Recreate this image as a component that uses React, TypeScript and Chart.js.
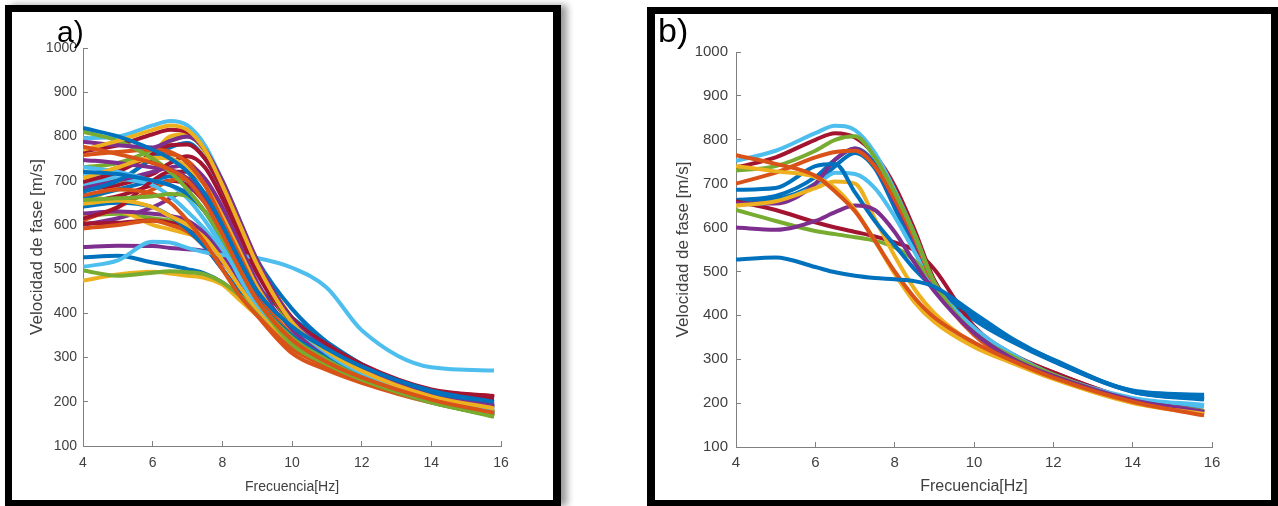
import React, { useEffect, useRef } from 'react';
import { Chart, registerables } from 'chart.js';

Chart.register(...registerables);

// Shared frequency grid (Hz)
const FREQ = [4, 5, 6, 6.5, 7, 7.5, 8, 8.5, 9, 10, 11, 12, 14, 15.8];
const X_TICKS = [4, 6, 8, 10, 12, 14, 16];
const Y_TICKS = [100, 200, 300, 400, 500, 600, 700, 800, 900, 1000];

const BLUE = '#0072BD';
const ORANGE = '#D95319';
const YELLOW = '#EDB120';
const PURPLE = '#7E2F8E';
const GREEN = '#77AC30';
const LBLUE = '#4DBEEE';
const RED = '#A2142F';

// Panel a) phase velocity curves (m/s)
const A_B1 = [819, 800, 770, 750, 720, 670, 600, 520, 450, 370, 320, 280, 225, 200];
const A_O1 = [777, 760, 740, 725, 700, 650, 580, 500, 430, 340, 290, 255, 205, 175];
const A_Y1 = [770, 790, 815, 825, 815, 770, 690, 600, 510, 380, 315, 270, 212, 185];
const A_P1 = [788, 780, 775, 790, 800, 770, 700, 610, 520, 385, 320, 275, 213, 190];
const A_G1 = [811, 790, 750, 720, 680, 630, 570, 500, 430, 345, 295, 255, 200, 168];
const A_L1 = [796, 800, 825, 835, 825, 780, 700, 610, 515, 380, 310, 265, 210, 180];
const A_R1 = [766, 780, 805, 815, 810, 770, 695, 605, 515, 390, 330, 285, 228, 213];
const A_B2 = [720, 715, 700, 690, 670, 630, 570, 500, 430, 350, 300, 262, 210, 180];
const A_O2 = [758, 765, 770, 765, 740, 690, 610, 530, 450, 350, 295, 258, 207, 178];
const A_Y2 = [705, 730, 752, 750, 730, 690, 620, 540, 460, 350, 295, 258, 206, 178];
const A_P2 = [747, 740, 730, 725, 705, 660, 590, 510, 440, 350, 305, 265, 210, 185];
const A_G2 = [656, 660, 665, 670, 665, 630, 570, 500, 430, 330, 285, 250, 200, 166];
const A_L2 = [731, 720, 700, 690, 670, 630, 560, 480, 420, 340, 295, 255, 200, 172];
const A_R2 = [697, 720, 760, 780, 782, 750, 680, 590, 500, 380, 325, 282, 226, 212];
const A_B3 = [675, 700, 750, 775, 785, 750, 680, 600, 520, 410, 335, 285, 220, 190];
const A_O3 = [667, 680, 670, 650, 610, 560, 500, 440, 395, 320, 280, 248, 200, 172];
const A_Y3 = [648, 655, 640, 620, 600, 570, 520, 460, 410, 335, 290, 255, 205, 176];
const A_P3 = [683, 700, 720, 730, 735, 705, 640, 555, 470, 360, 315, 270, 212, 188];
const A_G3 = [497, 485, 492, 495, 493, 488, 470, 440, 405, 335, 290, 250, 198, 168];
const A_L3 = [505, 520, 562, 560, 548, 538, 532, 530, 525, 503, 458, 362, 278, 271];
const A_R3 = [614, 640, 700, 720, 720, 690, 620, 540, 460, 365, 318, 278, 225, 210];
const A_B4 = [641, 650, 640, 620, 590, 550, 500, 450, 410, 345, 300, 260, 205, 175];
const A_O4 = [592, 600, 610, 600, 585, 550, 500, 445, 395, 310, 272, 243, 198, 170];
const A_Y4 = [474, 488, 494, 490, 485, 480, 465, 430, 395, 330, 285, 250, 203, 175];
const A_P4 = [626, 630, 625, 620, 610, 580, 530, 470, 420, 345, 310, 270, 213, 192];
const A_G4 = [730, 740, 770, 790, 800, 770, 700, 610, 510, 370, 305, 262, 206, 175];
const A_L4 = [716, 705, 690, 665, 630, 590, 540, 480, 420, 335, 290, 252, 200, 172];
const A_R4 = [603, 605, 610, 605, 595, 570, 530, 475, 425, 350, 310, 272, 222, 208];
const A_B5 = [527, 530, 515, 508, 500, 490, 470, 440, 410, 360, 310, 268, 200, 170];
const A_O5 = [610, 640, 680, 700, 705, 670, 600, 520, 440, 330, 285, 250, 203, 173];
const A_Y5 = [620, 630, 600, 590, 580, 570, 545, 500, 440, 345, 295, 258, 206, 178];
const A_P5 = [550, 553, 552, 548, 545, 540, 515, 470, 420, 350, 312, 272, 212, 195];
const A_G5 = [620, 625, 615, 610, 600, 580, 540, 480, 420, 335, 290, 252, 200, 170];
const A_L5 = [690, 705, 700, 690, 660, 610, 550, 490, 430, 345, 295, 255, 203, 176];
const A_R5 = [680, 690, 715, 740, 755, 730, 660, 575, 490, 375, 322, 280, 225, 211];
const A_B6 = [660, 680, 700, 710, 700, 660, 590, 510, 460, 390, 335, 285, 215, 185];
const A_O6 = [700, 730, 755, 760, 745, 700, 630, 545, 460, 335, 288, 252, 204, 175];
const A_Y6 = [650, 690, 760, 800, 805, 765, 695, 610, 520, 390, 322, 275, 214, 188];
const A_P6 = [600, 615, 640, 660, 680, 670, 620, 540, 460, 355, 315, 272, 214, 200];
const A_R6 = [650, 665, 690, 700, 690, 650, 590, 520, 455, 360, 315, 276, 224, 209];

// Panel b) phase velocity curves (m/s)
const B_B1 = [527, 532, 510, 498, 490, 485, 482, 478, 465, 405, 345, 298, 228, 214];
const B_O1 = [765, 745, 718, 682, 637, 570, 500, 440, 395, 338, 295, 258, 203, 172];
const B_Y1 = [740, 728, 715, 690, 640, 570, 495, 430, 385, 328, 290, 255, 200, 175];
const B_P1 = [600, 595, 615, 635, 650, 640, 590, 520, 455, 360, 300, 262, 207, 180];
const B_G1 = [730, 740, 775, 800, 808, 760, 680, 585, 475, 360, 305, 265, 205, 182];
const B_L1 = [752, 775, 815, 832, 822, 770, 685, 585, 475, 372, 310, 265, 212, 196];
const B_R1 = [737, 760, 800, 815, 805, 765, 695, 595, 480, 365, 308, 270, 207, 179];
const B_B2 = [686, 690, 740, 745, 680, 615, 560, 505, 462, 400, 342, 296, 226, 208];
const B_O2 = [700, 725, 760, 772, 775, 740, 665, 575, 470, 355, 300, 262, 205, 175];
const B_Y2 = [650, 660, 690, 705, 700, 620, 535, 460, 405, 335, 292, 256, 202, 176];
const B_P2 = [655, 655, 700, 755, 780, 740, 660, 570, 475, 360, 302, 264, 208, 182];
const B_G2 = [640, 615, 592, 585, 578, 570, 555, 525, 475, 360, 303, 265, 205, 180];
const B_L2 = [652, 658, 695, 725, 722, 690, 625, 545, 465, 365, 305, 264, 210, 192];
const B_R2 = [660, 640, 612, 600, 590, 580, 566, 548, 505, 375, 310, 270, 207, 180];
const B_B3 = [663, 672, 715, 755, 780, 745, 650, 555, 470, 390, 338, 295, 226, 210];
const B_B4 = [660, 665, 700, 740, 770, 735, 645, 550, 468, 398, 342, 299, 229, 219];

type Series = [string, number[]];

const PANEL_A: Series[] = [
  [BLUE, A_B1], [ORANGE, A_O1], [YELLOW, A_Y1], [PURPLE, A_P1], [GREEN, A_G1], [LBLUE, A_L1], [RED, A_R1],
  [BLUE, A_B2], [ORANGE, A_O2], [YELLOW, A_Y2], [PURPLE, A_P2], [GREEN, A_G2], [LBLUE, A_L2], [RED, A_R2],
  [BLUE, A_B3], [ORANGE, A_O3], [YELLOW, A_Y3], [PURPLE, A_P3], [GREEN, A_G3], [LBLUE, A_L3], [RED, A_R3],
  [BLUE, A_B4], [ORANGE, A_O4], [YELLOW, A_Y4], [PURPLE, A_P4], [GREEN, A_G4], [LBLUE, A_L4], [RED, A_R4],
  [BLUE, A_B5], [ORANGE, A_O5], [YELLOW, A_Y5], [PURPLE, A_P5], [GREEN, A_G5], [LBLUE, A_L5], [RED, A_R5],
  [BLUE, A_B6], [ORANGE, A_O6], [YELLOW, A_Y6], [PURPLE, A_P6], [RED, A_R6],
];

const PANEL_B: Series[] = [
  [BLUE, B_B1], [ORANGE, B_O1], [YELLOW, B_Y1], [PURPLE, B_P1], [GREEN, B_G1], [LBLUE, B_L1], [RED, B_R1],
  [BLUE, B_B2], [ORANGE, B_O2], [YELLOW, B_Y2], [PURPLE, B_P2], [GREEN, B_G2], [LBLUE, B_L2], [RED, B_R2],
  [BLUE, B_B3], [BLUE, B_B4],
];

const FAMILY = '"Liberation Sans", Arial, Helvetica, sans-serif';
const TEXT = '#404040';
const AXIS = '#808080';

type Geo = {
  yW: number; xH: number; padTop: number; padRight: number;
  tickSize: number; xTitleSize: number; yTitleSize: number;
  yTickPad: number; xTickPad: number; yTitlePad: number; xTitlePad: number;
};

function buildConfig(series: Series[], g: Geo): any {
  return {
    type: 'line',
    data: {
      datasets: series.map(([color, vals]) => ({
        data: vals.map((v, i) => ({ x: FREQ[i], y: v })),
        borderColor: color,
        backgroundColor: color,
        borderWidth: 4,
        pointRadius: 0,
        cubicInterpolationMode: 'monotone',
        fill: false,
      })),
    },
    options: {
      animation: false,
      responsive: false,
      maintainAspectRatio: false,
      events: [],
      layout: { padding: { top: g.padTop, right: g.padRight, left: 0, bottom: 0 } },
      plugins: { legend: { display: false }, tooltip: { enabled: false } },
      scales: {
        x: {
          type: 'linear',
          min: 4,
          max: 16,
          afterBuildTicks: (s: any) => { s.ticks = X_TICKS.map((v) => ({ value: v })); },
          afterFit: (s: any) => { s.height = g.xH; },
          ticks: { color: TEXT, font: { size: g.tickSize, family: FAMILY, lineHeight: 1 }, padding: g.xTickPad, maxRotation: 0, autoSkip: false, callback: (v: any) => String(v) },
          grid: { drawOnChartArea: false, drawTicks: true, tickLength: -5, color: AXIS },
          border: { display: true, color: AXIS, width: 1 },
          title: { display: true, text: 'Frecuencia[Hz]', color: TEXT, font: { size: g.xTitleSize, family: FAMILY, lineHeight: 1 }, padding: { top: 0, bottom: g.xTitlePad } },
        },
        y: {
          type: 'linear',
          min: 100,
          max: 1000,
          afterBuildTicks: (s: any) => { s.ticks = Y_TICKS.map((v) => ({ value: v })); },
          afterFit: (s: any) => { s.width = g.yW; },
          ticks: { color: TEXT, font: { size: g.tickSize, family: FAMILY, lineHeight: 1 }, padding: g.yTickPad, autoSkip: false, callback: (v: any) => String(v) },
          grid: { drawOnChartArea: false, drawTicks: true, tickLength: -5, color: AXIS },
          border: { display: true, color: AXIS, width: 1 },
          title: { display: true, text: 'Velocidad de fase [m/s]', color: TEXT, font: { size: g.yTitleSize, family: FAMILY, lineHeight: 1 }, padding: { top: g.yTitlePad, bottom: 0 } },
        },
      },
    },
  };
}

function ChartCanvas({ series, geo, left, top, width, height }: { series: Series[]; geo: Geo; left: number; top: number; width: number; height: number }) {
  const ref = useRef<HTMLCanvasElement | null>(null);
  useEffect(() => {
    if (!ref.current) return;
    const chart = new Chart(ref.current, buildConfig(series, geo));
    return () => chart.destroy();
  }, []);
  return (
    <canvas
      ref={ref}
      width={width}
      height={height}
      style={{ position: 'absolute', left, top, width, height }}
    />
  );
}

const GEO_A: Geo = { yW: 70, xH: 54, padTop: 35, padRight: 52, tickSize: 14, xTitleSize: 14, yTitleSize: 17, yTickPad: 11, xTickPad: 15, yTitlePad: 16, xTitlePad: 6 };
const GEO_B: Geo = { yW: 81, xH: 53, padTop: 38, padRight: 59, tickSize: 15, xTitleSize: 16, yTitleSize: 17, yTickPad: 13, xTickPad: 13.5, yTitlePad: 19.5, xTitlePad: 5 };

export default function App() {
  return (
    <div style={{ position: 'absolute', left: 0, top: 0, width: 1278, height: 506, overflow: 'hidden', background: '#fff' }}>
      <div style={{ position: 'absolute', left: 5, top: 5, width: 556, height: 501, boxSizing: 'border-box', borderStyle: 'solid', borderColor: '#000', borderWidth: '7px 8px 6px 7px', background: '#fff', boxShadow: '6px 0 7px rgba(0,0,0,0.4)' }} />
      <div style={{ position: 'absolute', left: 647, top: 7, width: 631, height: 499, boxSizing: 'border-box', borderStyle: 'solid', borderColor: '#000', borderWidth: '7px 7px 6px 8px', background: '#fff' }} />
      <ChartCanvas series={PANEL_A} geo={GEO_A} left={13} top={13} width={540} height={487} />
      <ChartCanvas series={PANEL_B} geo={GEO_B} left={655} top={14} width={616} height={486} />
      <div style={{ position: 'absolute', left: 57, top: 17, fontFamily: FAMILY, fontSize: 30, lineHeight: '30px', color: '#000' }}>a)</div>
      <div style={{ position: 'absolute', left: 658, top: 13, fontFamily: FAMILY, fontSize: 34, lineHeight: '34px', color: '#000' }}>b)</div>
    </div>
  );
}
